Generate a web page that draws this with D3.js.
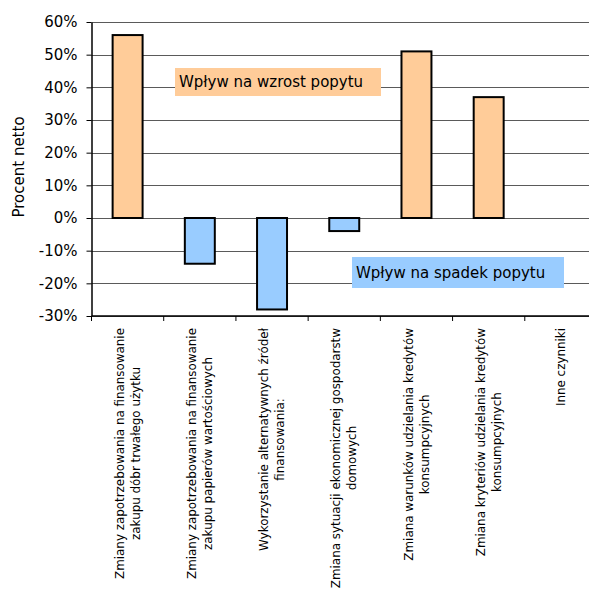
<!DOCTYPE html>
<html>
<head>
<meta charset="utf-8">
<script src="https://cdn.jsdelivr.net/npm/d3@7"></script>
<style>
  html, body { margin: 0; padding: 0; background: #fff; overflow: hidden; }
  svg { display: block; font-family: "DejaVu Sans", Verdana, sans-serif; }
</style>
</head>
<body>
<svg id="chart" width="589" height="595"></svg>
<script>
// Net percentage of factors affecting consumer credit demand
const categories = [
  ["Zmiany zapotrzebowania na finansowanie", "zakupu dóbr trwałego użytku"],
  ["Zmiany zapotrzebowania na finansowanie", "zakupu papierów wartościowych"],
  ["Wykorzystanie alternatywnych źródeł", "finansowania:"],
  ["Zmiana sytuacji ekonomicznej gospodarstw", "domowych"],
  ["Zmiana warunków udzielania kredytów", "konsumpcyjnych"],
  ["Zmiana kryteriów udzielania kredytów", "konsumpcyjnych"],
  ["Inne czynniki"]
];
const values = [0.56, -0.14, -0.28, -0.04, 0.51, 0.37, 0];
const yTicks = [-0.3, -0.2, -0.1, 0, 0.1, 0.2, 0.3, 0.4, 0.5, 0.6];
const yTitle = "Procent netto";
const noteUp = "Wpływ na wzrost popytu";
const noteDown = "Wpływ na spadek popytu";

const svg = d3.select("#chart");
const plotLeft = 91.5, plotRight = 597, plotTop = 22, plotBottom = 316;

const x = d3.scaleBand().domain(d3.range(categories.length)).range([plotLeft, plotRight]).padding(0);
const y = d3.scaleLinear().domain([-0.3, 0.6]).range([plotBottom, plotTop]);

// horizontal gridlines
svg.append("g").selectAll("line").data(yTicks).join("line")
  .attr("x1", plotLeft).attr("x2", plotRight)
  .attr("y1", d => Math.round(y(d)) + 0.5).attr("y2", d => Math.round(y(d)) + 0.5)
  .attr("stroke", "#5a5a5a").attr("stroke-width", 1);

// annotation boxes
function note(text, xv, yv, w, h, fill) {
  const g = svg.append("g");
  g.append("rect").attr("x", xv).attr("y", yv).attr("width", w).attr("height", h).attr("fill", fill);
  g.append("text").attr("x", xv + 4).attr("y", yv + h / 2).attr("dy", "0.36em")
    .attr("font-size", 15).attr("fill", "#000").text(text);
}
note(noteUp, 175, 68, 206, 28, "#FFCC99");
note(noteDown, 352, 257, 212, 31, "#99CCFF");

// bars
const barW = x.bandwidth() * 0.415;
svg.append("g").selectAll("rect").data(values.map((v, i) => ({v, i})).filter(d => d.v !== 0)).join("rect")
  .attr("x", d => x(d.i) + (x.bandwidth() - barW) / 2)
  .attr("y", d => y(Math.max(0, d.v)))
  .attr("width", barW)
  .attr("height", d => Math.abs(y(d.v) - y(0)))
  .attr("fill", d => d.v > 0 ? "#FFCC99" : "#99CCFF")
  .attr("stroke", "#000").attr("stroke-width", 2);

// y axis (plain hyphen for negative values)
const pct = d => Math.round(d * 100) + "%";
const yAxis = d3.axisLeft(y).tickValues(yTicks).tickFormat(pct).tickSize(5).tickSizeOuter(0);
const gy = svg.append("g").attr("transform", `translate(${plotLeft},0)`).call(yAxis);
gy.select(".domain").attr("stroke", "#000").attr("stroke-width", 1.5);
gy.selectAll(".tick line").attr("stroke", "#000");
gy.selectAll(".tick text").attr("font-size", 15).attr("font-family", "DejaVu Sans").attr("fill", "#000").attr("x", -14);

// x axis line with boundary ticks
const bounds = d3.range(categories.length + 1).map(i => plotLeft + i * x.step());
svg.append("line").attr("x1", plotLeft).attr("x2", plotRight).attr("y1", plotBottom).attr("y2", plotBottom)
  .attr("stroke", "#000").attr("stroke-width", 1.5);
svg.append("g").selectAll("line").data(bounds).join("line")
  .attr("x1", d => d).attr("x2", d => d).attr("y1", plotBottom).attr("y2", plotBottom + 5)
  .attr("stroke", "#000");

// category labels, rotated, right-aligned against the axis
const labelTop = 328, lineGap = 16;
categories.forEach((lines, i) => {
  const cx = x(i) + x.bandwidth() / 2;
  const g = svg.append("g").attr("transform", `translate(${cx},${labelTop}) rotate(-90)`);
  const texts = lines.map((t, j) => g.append("text")
    .attr("font-size", 11.9).attr("fill", "#000")
    .attr("text-anchor", "middle")
    .attr("y", (j - (lines.length - 1) / 2) * lineGap)
    .attr("dy", "0.35em").text(t));
  const L = d3.max(texts, t => t.node().getComputedTextLength());
  texts.forEach(t => t.attr("x", -L / 2));
});

// y axis title
svg.append("text").attr("transform", `translate(19,167) rotate(-90)`)
  .attr("text-anchor", "middle").attr("dy", "0.35em")
  .attr("font-size", 15).attr("fill", "#000").text(yTitle);
</script>
</body>
</html>
